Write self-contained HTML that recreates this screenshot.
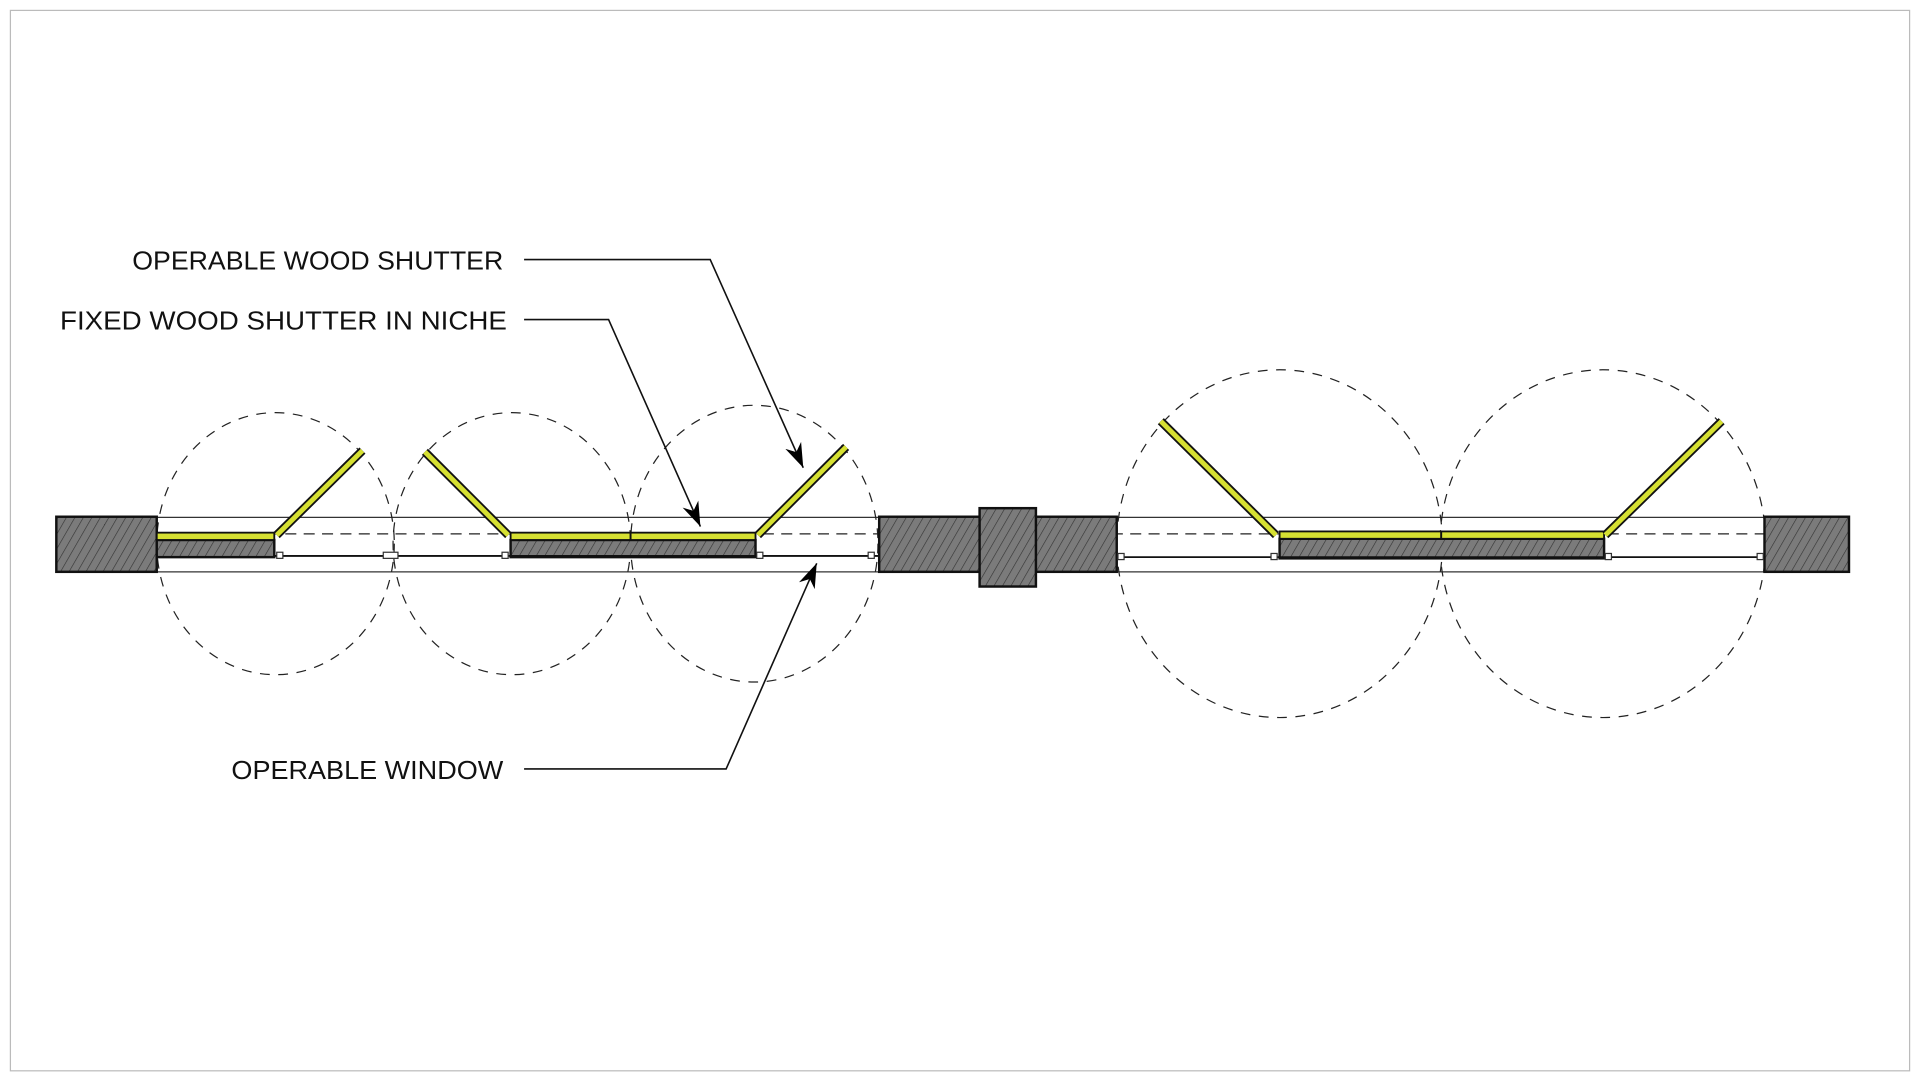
<!DOCTYPE html>
<html><head><meta charset="utf-8"><style>
html,body{margin:0;padding:0;background:#fff;width:1920px;height:1080px;overflow:hidden}
svg{display:block}
text{font-family:"Liberation Sans",sans-serif;font-size:21px;fill:#111}
</style></head><body>
<svg width="1920" height="1080" viewBox="0 0 1568 882" preserveAspectRatio="none">
<defs>
<pattern id="h" patternUnits="userSpaceOnUse" width="6" height="6" patternTransform="rotate(30)">
<rect width="6" height="6" fill="#7b7b7b"/><line x1="0" y1="0" x2="0" y2="6" stroke="#333" stroke-width="1"/>
</pattern>
<marker id="a" viewBox="0 0 10 10" refX="10" refY="5" markerWidth="20" markerHeight="14" orient="auto" markerUnits="userSpaceOnUse" preserveAspectRatio="none">
<path d="M0,0 L10,5 L0,10 L3,5 z" fill="#000"/></marker>
</defs>
<rect x="8.5" y="8.5" width="1551" height="866" fill="#fff" stroke="#bbb" stroke-width="1"/>
<line x1="128" y1="422.5" x2="1441" y2="422.5" stroke="#333" stroke-width="1"/>
<line x1="128" y1="467" x2="1441" y2="467" stroke="#333" stroke-width="1"/>
<line x1="128" y1="436" x2="1441" y2="436" stroke="#222" stroke-width="1" stroke-dasharray="9,6"/>
<g fill="none" stroke="#222" stroke-width="1" stroke-dasharray="8,7">
<ellipse cx="225" cy="444" rx="97" ry="107"/><ellipse cx="418" cy="444" rx="97" ry="107"/><ellipse cx="616" cy="444" rx="101" ry="113"/>
<ellipse cx="1045" cy="444" rx="133" ry="142"/><ellipse cx="1309" cy="444" rx="133" ry="142"/>
</g>
<g fill="url(#h)" stroke="#111" stroke-width="2">
<rect x="46" y="422" width="82" height="45"/>
<rect x="718" y="422" width="194" height="45"/>
<rect x="800" y="415" width="46" height="64"/>
<rect x="1441" y="422" width="69" height="45"/>
<rect x="128" y="441" width="96" height="14"/>
<rect x="417" y="441" width="200" height="14"/>
<rect x="1045" y="440" width="265" height="16"/>
</g>
<g stroke="#111" stroke-width="1.5">
<line x1="224" y1="454" x2="718" y2="454"/>
<line x1="912" y1="455" x2="1441" y2="455"/>
</g>
<g fill="#fff" stroke="#333" stroke-width="1">
<rect x="226" y="451" width="5" height="5"/><rect x="313" y="451" width="12" height="5"/><rect x="410" y="451" width="5" height="5"/>
<rect x="618" y="451" width="5" height="5"/><rect x="709" y="451" width="5" height="5"/>
<rect x="913" y="452" width="5" height="5"/><rect x="1038" y="452" width="5" height="5"/><rect x="1311" y="452" width="5" height="5"/><rect x="1435" y="452" width="5" height="5"/>
</g>
<g fill="#d6e032" stroke="#111" stroke-width="1.5">
<rect x="128" y="435" width="96" height="6"/>
<rect x="417" y="435" width="98" height="6"/><rect x="515" y="435" width="102" height="6"/>
<rect x="1045" y="434" width="132" height="6"/><rect x="1177" y="434" width="133" height="6"/>
</g>
<g stroke="#111" stroke-width="7" stroke-linecap="butt">
<line x1="226" y1="437" x2="296" y2="368"/><line x1="415" y1="437" x2="347" y2="369"/>
<line x1="619" y1="437" x2="691" y2="365"/><line x1="1042" y1="437" x2="948" y2="344"/>
<line x1="1311" y1="437" x2="1406" y2="344"/>
</g>
<g stroke="#d6e032" stroke-width="4">
<line x1="226" y1="437" x2="296" y2="368"/><line x1="415" y1="437" x2="347" y2="369"/>
<line x1="619" y1="437" x2="691" y2="365"/><line x1="1042" y1="437" x2="948" y2="344"/>
<line x1="1311" y1="437" x2="1406" y2="344"/>
</g>
<g fill="none" stroke="#111" stroke-width="1.3">
<polyline points="428,212 580,212 656,382" marker-end="url(#a)"/>
<polyline points="428,261 497,261 572,430" marker-end="url(#a)"/>
<polyline points="428,628 593,628 667,460" marker-end="url(#a)"/>
</g>
<text x="411" y="220" text-anchor="end" textLength="303" lengthAdjust="spacingAndGlyphs">OPERABLE WOOD SHUTTER</text>
<text x="414" y="269" text-anchor="end" textLength="365" lengthAdjust="spacingAndGlyphs">FIXED WOOD SHUTTER IN NICHE</text>
<text x="411" y="636" text-anchor="end" textLength="222" lengthAdjust="spacingAndGlyphs">OPERABLE WINDOW</text>
</svg>
</body></html>
